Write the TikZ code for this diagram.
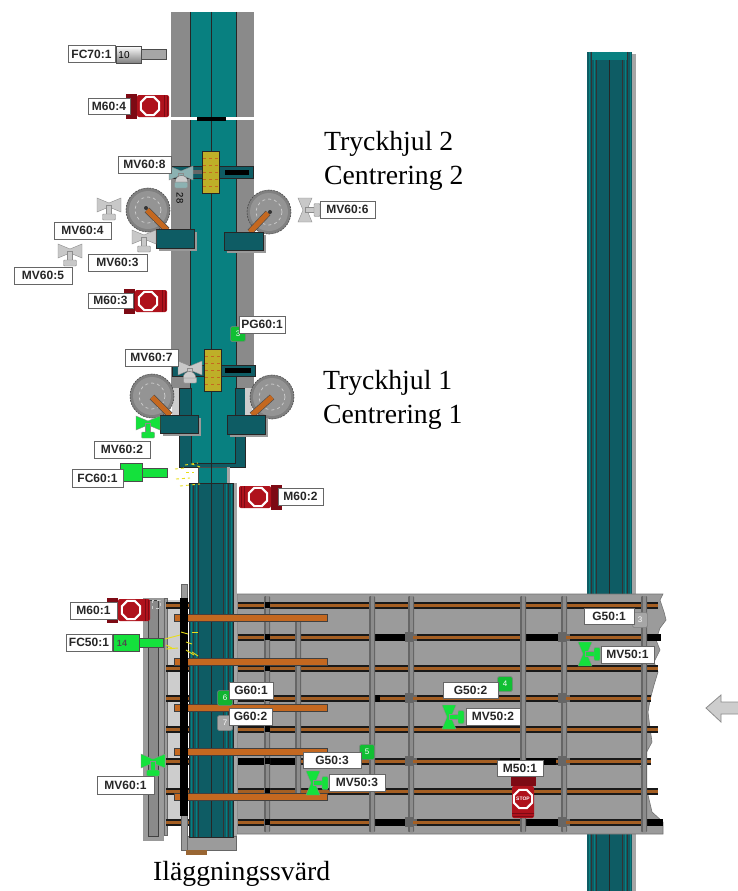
\documentclass[tikz,border=0pt]{standalone}
\usepackage{fontspec}
\setmainfont{Liberation Serif}
\newfontfamily\labfont[Scale=1]{Liberation Sans}
\usetikzlibrary{shapes.geometric,calc}
\definecolor{tealmain}{RGB}{8,128,128}
\definecolor{tealdark}{RGB}{14,92,100}
\definecolor{railgray}{RGB}{155,155,155}
\definecolor{colgray}{RGB}{138,138,138}
\definecolor{lightgr}{RGB}{205,205,205}
\definecolor{orangebar}{RGB}{196,104,32}
\definecolor{railor}{RGB}{165,95,35}
\definecolor{motred}{RGB}{175,18,28}
\definecolor{motdark}{RGB}{125,10,20}
\definecolor{vgreen}{RGB}{20,225,60}
\definecolor{vgray}{RGB}{200,200,200}
\definecolor{yellowb}{RGB}{190,175,40}
\tikzset{
  tag/.style={draw=black!60,fill=white,line width=1pt,inner sep=0pt,font=\labfont\bfseries\fontsize{12}{13}\selectfont,text=black!85,anchor=center},
  bigtext/.style={font=\fontsize{27.7}{30}\selectfont,anchor=west,inner sep=0pt,align=left},
  dk/.style={draw=black!85,line width=.8pt},
}
\newcommand{\tagbox}[6]{% name, x1,y1,x2,y2,text
  \node[tag,minimum width=#4-#2,minimum height=#5-#3] (#1) at ({(#2+#4)/2},{(#3+#5)/2}) {#6};}
% valve: x,y,rotation,fill  (stem pointing +y in local picture coordinates)
\newcommand{\valve}[4]{%
  \begin{scope}[shift={(#1,#2)},rotate=#3]
    \fill[#4,draw=black!45,line width=.4pt] (-12,-7)--(0,-2)--(12,-7)--(12,7)--(0,2)--(-12,7)--cycle;
    \fill[#4,draw=black!45,line width=.4pt] (-2.5,0) rectangle (2.5,10);
    \fill[#4,draw=black!45,line width=.4pt,rounded corners=1pt] (-6.5,9) rectangle (6.5,15);
  \end{scope}}
% motor: x,y of sign centre, rotation (flange on -x local)
\newcommand{\motor}[4][]{%
  \begin{scope}[shift={(#2,#3)},rotate=#4]
    \fill[motdark] (-24,-12.5) rectangle (-13,12.5);
    \fill[motred,rounded corners=2pt] (-13,-11) rectangle (19,11);
    \draw[motdark,line width=1pt] (14,-11)--(14,11);
    \draw[motdark,line width=1pt] (17,-10)--(17,10);
    \node[regular polygon,regular polygon sides=8,fill=white,inner sep=0pt,minimum size=22pt] at (0,0) {};
    \node[regular polygon,regular polygon sides=8,fill=motred,inner sep=0pt,minimum size=17pt] at (0,0) {};
    \node[text=white,font=\labfont\bfseries\fontsize{5}{5}\selectfont,inner sep=0pt] at (0,0) {#1};
  \end{scope}}
\newcommand{\wheel}[2]{%
  \fill[black!50,draw=black!70,line width=.6pt,dash pattern=on 2pt off 1pt] (#1,#2) circle (22);
  \fill[black!42] (#1,#2) circle (19);
  \draw[lightgr,line width=.7pt,dashed] (#1,#2) circle (13);}
\newcommand{\arm}[4]{%
  \draw[black!70,line width=6.5pt] (#1,#2)--(#3,#4);
  \draw[orangebar,line width=5.2pt] (#1,#2)--(#3,#4);}
\newcommand{\block}[4]{%
  \fill[black!40] (#1+3,#2+3) rectangle (#3+3,#4+3);
  \fill[tealdark,dk] (#1,#2) rectangle (#3,#4);}
\newcommand{\gbox}[5]{% name x y colour text
  \node[fill=#4,draw=black!50,line width=.5pt,rounded corners=1.5pt,minimum width=15pt,minimum height=15pt,inner sep=0pt,text=white,font=\labfont\fontsize{8}{8}\selectfont] (#1) at (#2,#3) {#5};}
\newcommand{\rail}[3]{% y, x1, x2
  \fill[black!90] (#2,#1-3.5) rectangle (#3,#1+3.5);
  \fill[railor] (#2,#1-1.5) rectangle (#3,#1+1.5);}
\newcommand{\crossbar}[1]{%
  \fill[black!75] (174,#1-4) rectangle (328,#1+4);
  \fill[orangebar] (175,#1-3) rectangle (327,#1+3);}
\newcommand{\vbar}[3]{% x, y1, y2
  \fill[black!60,rounded corners=1pt] (#1-3,#2) rectangle (#1+3,#3);
  \fill[black!45] (#1-1.5,#2) rectangle (#1+1.5,#3);}
\newcommand{\clamp}[2]{%
  \fill[black!60] (#1-6,#2-5) rectangle (#1+6,#2+5);
  \fill[railgray] (#1+3,#2-5) rectangle (#1+6,#2-3.5);
  \fill[railgray] (#1+3,#2+3.5) rectangle (#1+6,#2+5);}
\newcommand{\conveyor}[4]{% x1 x2 y1 y2
  \fill[tealdark] (#1,#3) rectangle (#2,#4);
  \foreach \xx in {#1+2,#1+7,#2-7,#2-2}{\draw[tealmain,line width=1pt] ({\xx},#3)--({\xx},#4);}
  \foreach \xx in {#1+4.5,#1+9.5,#2-9.5,#2-4.5}{\draw[black!80,line width=.7pt] ({\xx},#3)--({\xx},#4);}
  \draw[black!85,line width=.9pt] ({(#1+#2)/2},#3)--({(#1+#2)/2},#4);
  }
\begin{document}
\begin{tikzpicture}[x=1pt,y=-1pt]
\useasboundingbox (0,0) rectangle (738,891);
\fill[white] (0,0) rectangle (738,891);
% ---- right conveyor
\fill[black!35] (632,54) rectangle (636,891);
\conveyor{587}{632}{52}{891}
\fill[tealmain] (592,52) rectangle (627,60);
% ---- upper column
\fill[colgray] (171,12) rectangle (254,388);
\fill[tealmain] (190,12) rectangle (236,388);
\draw[black!85,line width=1pt] (190,12)--(190,388) (236,12)--(236,388) (211,12)--(211,388);
\fill[white] (171,117) rectangle (254,119.5);
\fill[black] (197,117) rectangle (226,120.5);
% ---- lower teal part
\fill[tealdark,dk] (179,388) rectangle (245,467);
\fill[tealmain] (191,380) rectangle (235,463);
\draw[black!85,line width=.8pt] (191,388)--(191,463)--(235,463)--(235,388) (211,380)--(211,483);
\fill[lightgr] (172,388) rectangle (179,415);
\fill[lightgr] (245,388) rectangle (252,415);
\fill[tealmain,draw=black!70] (198,467) rectangle (227,483);
\draw[black!85] (211,467)--(211,483);
\fill[black!35] (227,467) rectangle (230,483);
% ---- table
\fill[railgray,draw=black!55,line width=.6pt]
 (237,594)--(663,594)--(660,600)--(664,612)--(666,620)--(660,628)--(656,640)--(660,650)--(654,662)--(658,672)--(654,685)--(650,700)--(648,712)--(650,728)--(652,742)--(644,757)--(640,765)--(645,778)--(648,795)--(652,812)--(663,822)--(663,834)--(237,834)--cycle;
\fill[white] (640,762)--(646,762)--(649,775)--(644,778)--cycle;
% rails
\foreach \yy in {605,668,729,791}{\rail{\yy}{238}{658}}
\foreach \yy in {637,698,761,822}{\rail{\yy}{238}{651}}
\foreach \yy/\xa/\xb in {637/372/411,698/372/380,761/238/300,822/372/411,637/523/564,822/523/564,761/500/556}{\fill[black] (\xa,\yy-3.5) rectangle (\xb,\yy+3.5);}
\fill[black] (646,637-3.5) rectangle (661,637+3.5);
\fill[black] (645,822-3.5) rectangle (663,822+3.5);
% table cross members
\foreach \xx in {267,372,411,523,564,644}{\vbar{\xx}{596}{832}}
\vbar{298}{620}{795}
\foreach \xx in {411,564}{\foreach \yy in {637,698,761,822}{\clamp{\xx}{\yy}}}
\foreach \xx in {411,564}{\foreach \yy in {637,698,761,822}{\fill[railor] (\xx+2,\yy-1.5) rectangle (\xx+9,\yy+1.5);}}
\foreach \yy in {605,637,668,698,729,761,791,822}{\fill[black] (265,\yy-3) rectangle (270,\yy+3);}
% ---- left frame
\fill[railgray,draw=black!40] (143,598) rectangle (163,840);
\fill[colgray,draw=black!75] (148,600) rectangle (158,836);
\fill[lightgr] (167,600) rectangle (187,820);
\fill[railgray,draw=black!60] (164,598) rectangle (167,835);
\foreach \yy in {605,668,698,729,761,791,822}{\rail{\yy}{166}{189}}
% ---- lower conveyor with base
\fill[railgray,draw=black!60] (181,584) rectangle (187,850);
\fill[railgray,draw=black!60] (187,836) rectangle (236,850);
\fill[brown!80!black] (186,850) rectangle (207,855);
\fill[black!35] (233,483) rectangle (237,836);
\conveyor{189}{233}{483}{837}
\draw[black!85] (189,483)--(233,483)--(233,837)--(189,837)--cycle;
\foreach \yy in {618,662,708,752,797}{\crossbar{\yy}}
\fill[black] (180,598) rectangle (188,816);
% ---- wheels and blocks, top
\wheel{148}{210}\wheel{269}{212}
\arm{147}{210}{167}{230}\arm{268}{213}{250}{232}
\fill[black!80] (146,208) circle (2);\fill[black!80] (270,212) circle (2);
\block{156}{229}{194}{248}\block{224}{232}{263}{250}
% ---- wheels and blocks, lower
\wheel{152}{396}\wheel{272}{397}
\arm{152}{397}{170}{415}\arm{272}{397}{252}{415}
\block{160}{415}{198}{433}\block{227}{415}{265}{434}
% ---- yellow carriages
\fill[tealdark,dk] (170,166) rectangle (253,178);
\fill[black!60] (190,170) rectangle (205,174);
\fill[black] (225,169.5) rectangle (249,174.5);
\fill[yellowb,dk] (202,151) rectangle (219,193);
\foreach \yy in {158,165,172,179,186}{\draw[orangebar,line width=.8pt,dashed] (203,\yy)--(218,\yy);}
\fill[tealdark,dk] (172,365) rectangle (255,376);
\fill[black!60] (205,369) rectangle (222,373);
\fill[black] (225,368) rectangle (251,373);
\fill[yellowb,dk] (204,349) rectangle (221,391);
\foreach \yy in {356,363,370,377,384}{\draw[orangebar,line width=.8pt,dashed] (205,\yy)--(220,\yy);}
% ---- valves
\valve{109}{205}{0}{vgray}
\valve{144}{237}{0}{vgray}
\valve{70}{251}{0}{vgray}
\valve{181}{173}{0}{vgray!70!teal}
\valve{190}{368}{0}{vgray}
\valve{148}{423}{0}{vgreen}
\valve{153}{761}{0}{vgreen}
\valve{305}{210}{90}{vgray}
\valve{313}{783}{90}{vgreen}
\valve{449}{717}{90}{vgreen}
\valve{585}{654}{90}{vgreen}
% ---- sensors with half circles
\fill[lightgr,draw=black!60] (175,182) arc[start angle=180,end angle=360,radius=6.5] -- cycle;
\node[rotate=-90,font=\labfont\fontsize{9.5}{10}\selectfont,inner sep=0pt] (n28) at (180,198) {28};
\fill[lightgr,draw=black!60] (183,378) arc[start angle=180,end angle=360,radius=6.5] -- cycle;
% ---- motors
\draw[lightgr,line width=1pt,dashed] (152,600) rectangle (160,608);
\motor{150}{106}{0}
\motor{148}{301}{0}
\motor{258}{497}{180}
\motor{131}{610}{0}
\motor[STOP]{523}{799}{-90}
% ---- cylinders
\fill[black!35,draw=black!70] (141,49) rectangle (166,59);
\shade[top color=white,bottom color=black!50,draw=black!70] (116,46) rectangle (141,63);
\node[font=\labfont\fontsize{10}{10}\selectfont,inner sep=0pt] (c10) at (124,55) {10};
\fill[vgreen,draw=black!70] (139,638) rectangle (163,647);
\fill[vgreen,draw=black!70] (113,634) rectangle (139,651);
\node[font=\labfont\bfseries\fontsize{9}{9}\selectfont,text=black!70,inner sep=0pt] (c14) at (122,643) {14};
\fill[vgreen,draw=black!70] (120,463) rectangle (142,481);
\fill[vgreen,draw=black!70] (142,468) rectangle (167,477);
% laser dashes
\foreach \xa/\ya/\xb/\yb in {175/469/185/468,176/479/190/478,186/472/194/472,180/486/200/484,185/465/198/463,200/467/192/464}{\draw[yellow!90!black,line width=.9pt,dashed] (\xa,\ya)--(\xb,\yb);}
\foreach \xa/\ya/\xb/\yb in {165/639/180/635,166/649/178/648,166/645/172/648,181/632/188/634,186/642/192/644,186/650/194/655,192/632/198/632,192/652/198/656}{\draw[yellow!90!black,line width=.9pt] (\xa,\ya)--(\xb,\yb);}
% ---- status boxes
\gbox{g601}{225}{698}{vgreen!80!black}{6}
\gbox{g602}{225}{723}{black!35}{7}
\gbox{g503}{367}{752}{vgreen!85!black}{5}
\gbox{g502}{505}{684}{vgreen!85!black}{4}
\gbox{g501}{640}{620}{black!35}{3}
\gbox{pg601}{238}{334}{vgreen!85!black}{3}
% ---- arrow
\fill[lightgr,draw=black!45,line width=.8pt] (738,702)--(721,702)--(721,695)--(706,708)--(721,722)--(721,714)--(738,714);
% ---- labels
\tagbox{fc701}{68}{46}{115}{63}{FC70:1}
\tagbox{m604}{88}{98}{130}{114}{M60:4}
\tagbox{mv608}{118}{156}{171}{173}{MV60:8}
\tagbox{mv606}{320}{201}{375}{218}{MV60:6}
\tagbox{mv604}{54}{222}{111}{239}{MV60:4}
\tagbox{mv603}{88}{254}{147}{271}{MV60:3}
\tagbox{mv605}{14}{267}{72}{284}{MV60:5}
\tagbox{m603}{88}{293}{133}{308}{M60:3}
\tagbox{pg60}{239}{316}{285}{333}{PG60:1}
\tagbox{mv607}{125}{349}{178}{366}{MV60:7}
\tagbox{mv602}{94}{441}{150}{458}{MV60:2}
\tagbox{fc601}{72}{469}{123}{487}{FC60:1}
\tagbox{m602}{278}{488}{323}{505}{M60:2}
\tagbox{m601}{70}{602}{117}{619}{M60:1}
\tagbox{fc501}{66}{634}{112}{651}{FC50:1}
\tagbox{g601t}{229}{682}{273}{699}{G60:1}
\tagbox{g602t}{229}{708}{272}{725}{G60:2}
\tagbox{g503t}{303}{752}{361}{768}{G50:3}
\tagbox{mv503}{329}{774}{385}{791}{MV50:3}
\tagbox{mv601}{97}{776}{154}{794}{MV60:1}
\tagbox{g502t}{443}{682}{498}{698}{G50:2}
\tagbox{mv502}{466}{708}{520}{725}{MV50:2}
\tagbox{g501t}{584}{608}{634}{624}{G50:1}
\tagbox{mv501}{601}{646}{654}{663}{MV50:1}
\tagbox{m501}{497}{760}{543}{776}{M50:1}
% ---- captions
\node[bigtext] (t2) at (324,144) {Tryckhjul 2};
\node[bigtext] (c2) at (324,178) {Centrering 2};
\node[bigtext] (t1) at (323,383) {Tryckhjul 1};
\node[bigtext] (c1) at (323,417) {Centrering 1};
\node[bigtext] (il) at (153,874) {Iläggningssvärd};
\end{tikzpicture}
\end{document}
